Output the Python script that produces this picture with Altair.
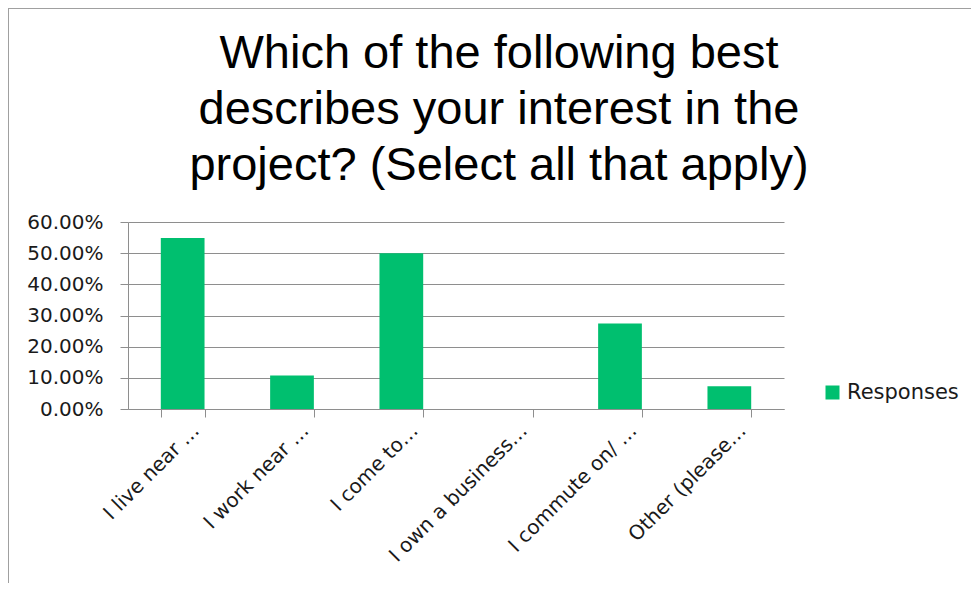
import altair as alt
import pandas as pd

categories = ["I live near …", "I work near …", "I come to…", "I own a business…",
              "I commute on/ …", "Other (please…"]
values = [0.5484, 0.1075, 0.50, 0.0, 0.2742, 0.0726]
series = ["Responses"] * len(categories)
title_lines = ["Which of the following best", "describes your interest in the",
               "project? (Select all that apply)"]

df = pd.DataFrame({"category": categories, "value": values, "series": series})

GRAY = "#8e8e8e"
GREEN = "#00BF6F"
FONT = "DejaVu Sans"

W, H = 656, 187
PL, PT, PR, PB = 120, 214, 187, 174

bars = alt.Chart(df).mark_bar(color=GREEN).encode(
    x=alt.X("category:N", sort=None, title=None,
            scale=alt.Scale(paddingInner=0.6, paddingOuter=0.3),
            axis=alt.Axis(labelAngle=-45, labelFont=FONT, labelFontSize=20,
                          labelColor="#1a1a1a", tickBand="extent", tickSize=8,
                          tickColor=GRAY, domainColor=GRAY, labelPadding=3,
                          labelOffset=6, grid=False, labelLimit=300)),
    y=alt.Y("value:Q", title=None,
            scale=alt.Scale(domain=[0, 0.6], nice=False),
            axis=alt.Axis(format=".2%", values=[0, 0.1, 0.2, 0.3, 0.4, 0.5, 0.6],
                          labelFont=FONT, labelFontSize=20, labelColor="#1a1a1a",
                          tickSize=8, tickColor=GRAY, domainColor=GRAY,
                          gridColor=GRAY, labelPadding=17)),
    color=alt.Color("series:N", title=None,
                    scale=alt.Scale(range=[GREEN]),
                    legend=alt.Legend(orient="none", legendX=694, legendY=160,
                                      symbolType="square", symbolSize=196,
                                      symbolStrokeWidth=0, labelFont=FONT,
                                      labelFontSize=21, labelColor="#1a1a1a",
                                      padding=0, labelOffset=4)),
)

border_df = pd.DataFrame({"b": [0]})
top_border = alt.Chart(border_df).mark_rule(color="#a0a0a0", strokeWidth=1).encode(
    x=alt.value(-PL), x2=alt.value(W + PR), y=alt.value(-PT + 0.5))
left_border = alt.Chart(border_df).mark_rule(color="#a0a0a0", strokeWidth=1).encode(
    x=alt.value(-PL + 0.5), y=alt.value(-PT), y2=alt.value(H + PB))

chart = alt.layer(bars, top_border, left_border).properties(
    width=W, height=H,
    autosize=alt.AutoSizeParams(type="none"),
    padding={"left": PL, "top": PT, "right": PR, "bottom": PB},
    title=alt.Title(title_lines, font="Liberation Sans", fontSize=47, fontWeight="normal",
                    color="#000000", lineHeight=56, anchor="middle", dx=43, dy=196,
                    offset=14),
).configure_view(strokeWidth=0)

chart.save("out.html", embed_options={"renderer": "svg", "actions": False})
